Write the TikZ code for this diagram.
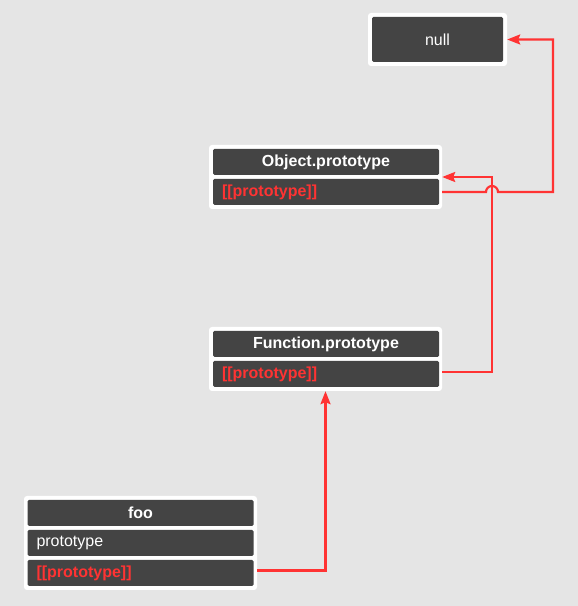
\documentclass[tikz,border=0pt]{standalone}
\usepackage{fontspec}
\setmainfont{Liberation Sans}
\usetikzlibrary{arrows.meta}
\definecolor{bggray}{HTML}{E5E5E5}
\definecolor{cellgray}{HTML}{444444}
\definecolor{linkred}{HTML}{FF3333}
\begin{document}
\begin{tikzpicture}[x=1pt, y=1pt,
    frame/.style={fill=white, rounded corners=3pt, inner sep=0pt, minimum width=233pt},
    cell/.style={fill=cellgray, rounded corners=1.5pt, inner sep=0pt, minimum width=226pt,
        minimum height=26pt, text=white, font=\fontsize{16}{19}\selectfont},
    head/.style={cell, font=\fontsize{16}{19}\selectfont\bfseries},
    field/.style={cell, text width=208pt, align=left},
    slot/.style={field, text=linkred, font=\fontsize{16}{19}\selectfont\bfseries},
    link/.style={draw=linkred, line width=2.2pt, -{Stealth[length=13pt, width=10pt, inset=2pt]}}]

        \fill[bggray] (0, 0) rectangle (578, 606);
        \useasboundingbox (0, 0) rectangle (578, 606);

        \node[frame, minimum width=139pt, minimum height=53pt] (null) at (437.5, 566.5) {};
        \node[cell, minimum width=131pt, minimum height=45pt] (nullval) at (null) {null};

        \node[frame, minimum height=64pt] (obj) at (325.5, 429) {};
        \node[head] (objhead) at (326, 444) {Object.prototype};
        \node[slot] (objslot) at (326, 414) {[[prototype]]};

        \node[frame, minimum height=64pt] (fun) at (325.5, 247) {};
        \node[head] (funhead) at (326, 262) {Function.prototype};
        \node[slot] (funslot) at (326, 232) {[[prototype]]};

        \node[frame, minimum height=94pt] (foo) at (140.5, 63) {};
        \node[head] (foohead) at (140.5, 93) {foo};
        \node[field] (fooproto) at (140.5, 63) {prototype};
        \node[slot] (fooslot) at (140.5, 33) {[[prototype]]};

        \coordinate (bendA) at (492, 429);
        \coordinate (bendB) at (553, 414);
        \coordinate (hop) at (486, 414);

        \draw[link] ([yshift=2.5pt]fooslot.east -| foo.east) -| (fun.south);
        \draw[link] ([yshift=2pt]funslot.east -| fun.east) -| (bendA) -- (obj.east);
        \draw[link] (objslot.east -| obj.east) -- (hop) arc[start angle=180, end angle=0, radius=6pt]
            -- (bendB) |- (null.east);

    \end{tikzpicture}
\end{document}
